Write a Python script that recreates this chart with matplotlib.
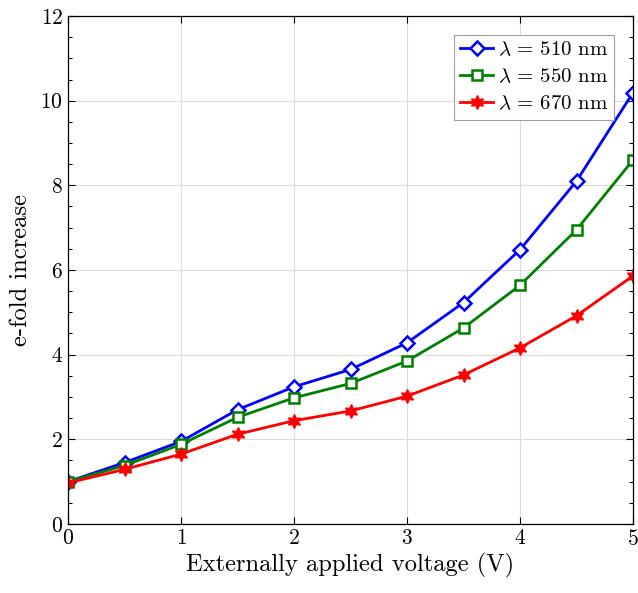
import matplotlib
matplotlib.use("Agg")
import matplotlib.pyplot as plt
from matplotlib.ticker import MultipleLocator

plt.rcParams['font.family'] = 'serif'
plt.rcParams['font.serif'] = ['cmr10']
plt.rcParams['mathtext.fontset'] = 'cm'
plt.rcParams['axes.formatter.use_mathtext'] = True

# data
voltage = [0, 0.5, 1, 1.5, 2, 2.5, 3, 3.5, 4, 4.5, 5]
efold_510 = [1.0, 1.45, 1.95, 2.70, 3.24, 3.65, 4.28, 5.23, 6.48, 8.10, 10.19]
efold_550 = [1.0, 1.38, 1.88, 2.52, 2.98, 3.32, 3.85, 4.63, 5.64, 6.95, 8.60]
efold_670 = [0.97, 1.29, 1.65, 2.12, 2.44, 2.67, 3.02, 3.52, 4.16, 4.92, 5.86]

labels = [r'$\lambda\,=\,510$ nm', r'$\lambda\,=\,550$ nm', r'$\lambda\,=\,670$ nm']

fig = plt.figure(figsize=(6.38, 5.93), dpi=100)
ax = fig.add_axes([0.1066, 0.1164, 0.8856, 0.8566])

ax.plot(voltage, efold_510, color='blue', lw=2.0, marker='D', ms=7.5,
        mfc='white', mew=1.8, label=labels[0])
ax.plot(voltage, efold_550, color='green', lw=2.0, marker='s', ms=7,
        mfc='white', mew=1.8, label=labels[1])
ax.plot(voltage, efold_670, color='red', lw=2.0, marker=(6, 1, 0), ms=10,
        mfc='red', mew=1.0, label=labels[2])

ax.set_xlim(0, 5)
ax.set_ylim(0, 12)
ax.xaxis.set_major_locator(MultipleLocator(1))
ax.yaxis.set_major_locator(MultipleLocator(2))
ax.yaxis.set_minor_locator(MultipleLocator(0.5))
ax.tick_params(which='both', direction='in', top=True, right=True,
               labelsize=15.5, width=0.8)
ax.tick_params(which='major', length=5)
ax.tick_params(which='minor', length=3)
ax.grid(True, which='major', color='#dcdcdc', lw=0.8)
ax.set_axisbelow(True)
for s in ax.spines.values():
    s.set_linewidth(0.9)

ax.set_xlabel('Externally applied voltage (V)', fontsize=17.7, labelpad=3)
ax.set_ylabel('e-fold increase', fontsize=17.7, labelpad=6)

leg = ax.legend(loc='upper right', fontsize=15, fancybox=False,
                framealpha=1, edgecolor='#a0a0a0', handlelength=1.6,
                handletextpad=0.2, borderpad=0.3, labelspacing=0.4,
                borderaxespad=0.9)
leg.get_frame().set_linewidth(0.8)

fig.savefig('out.png', dpi=100)
